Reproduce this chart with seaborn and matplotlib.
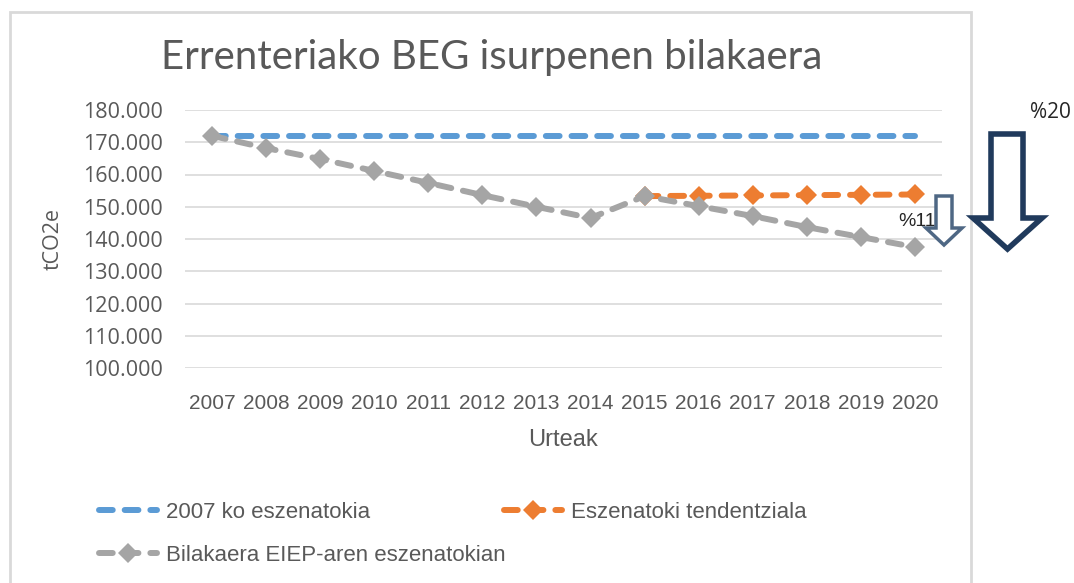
import matplotlib
matplotlib.use("Agg")
import matplotlib.pyplot as plt
import matplotlib.ticker as mticker
from matplotlib.patches import Polygon, Rectangle
from matplotlib.lines import Line2D
import seaborn as sns
import pandas as pd

# datuak
urteak = list(range(2007, 2021))
eszenatoki_2007 = [172000] * 14
tendentziala_urteak = [2015, 2016, 2017, 2018, 2019, 2020]
tendentziala = [153300, 153400, 153500, 153600, 153700, 153800]
eiep = [172000, 168200, 164800, 161100, 157400, 153600, 150000,
        146500, 153300, 150200, 147100, 143700, 140600, 137500]

izenak = ["2007 ko eszenatokia", "Eszenatoki tendentziala",
          "Bilakaera EIEP-aren eszenatokian"]
koloreak = ["#5B9BD5", "#ED7D31", "#A5A5A5"]
testu_kolorea = "#595959"

sns.set_theme(style="white")
plt.rcParams["font.family"] = ["Liberation Sans", "DejaVu Sans"]
zabala = ["Open Sans", "DejaVu Sans"]

W, H = 1074, 583
fig = plt.figure(figsize=(W / 100, H / 100), dpi=100)


def px(x, y):
    # pixel -> figure koordenatuak
    return (x / W, 1 - y / H)


ax = fig.add_axes([185 / W, 1 - 368 / H, (942 - 185) / W, (368 - 110) / H])

df_a = pd.DataFrame({"urtea": urteak, "balioa": eszenatoki_2007})
df_b = pd.DataFrame({"urtea": tendentziala_urteak, "balioa": tendentziala})
df_c = pd.DataFrame({"urtea": urteak, "balioa": eiep})

lw = 4.3
dash = (2.3, 2.0)
sns.lineplot(data=df_a, x="urtea", y="balioa", ax=ax, color=koloreak[0],
             linewidth=lw, zorder=3)
sns.lineplot(data=df_b, x="urtea", y="balioa", ax=ax, color=koloreak[1],
             linewidth=lw, marker="D", markersize=10, markeredgewidth=0, zorder=3)
sns.lineplot(data=df_c, x="urtea", y="balioa", ax=ax, color=koloreak[2],
             linewidth=lw, marker="D", markersize=10, markeredgewidth=0, zorder=4)
for ln in ax.get_lines():
    ln.set_linestyle((0, dash))
    ln.set_dash_capstyle("round")

ax.set_xlim(2006.5, 2020.5)
ax.set_ylim(100000, 180000)
ax.set_xticks(urteak)
ax.set_xticklabels([str(u) for u in urteak])
ax.set_yticks(range(100000, 180001, 10000))
ax.yaxis.set_major_formatter(mticker.FuncFormatter(
    lambda v, p: f"{int(v):,}".replace(",", ".")))
ax.grid(axis="y", color="#D9D9D9", linewidth=1.2)
ax.set_axisbelow(True)
for s in ax.spines.values():
    s.set_visible(False)
ax.tick_params(axis="x", length=0, labelsize=15, colors=testu_kolorea, pad=19)
ax.tick_params(axis="y", length=0, labelsize=15.5, colors=testu_kolorea, pad=16)
for t in ax.get_yticklabels():
    t.set_family(zabala)
ax.set_xlabel("Urteak", fontsize=17, color=testu_kolorea, labelpad=11)
ax.set_ylabel("tCO2e", fontsize=15.5, color=testu_kolorea, labelpad=14,
              family=zabala)

fig.text(*px(492, 58), "Errenteriako BEG isurpenen bilakaera", fontsize=29,
         color=testu_kolorea, ha="center", va="center",
         family=["Lato", "DejaVu Sans"])

# kanpoko ertza
fig.patches.append(Rectangle(px(10, 600), (971 - 10) / W, (600 - 12) / H,
                             transform=fig.transFigure, fill=False,
                             edgecolor="#D9D9D9", linewidth=2))

# legenda (Excel-ek errenkadaka betetzen du)
estiloa = dict(linewidth=lw, linestyle=(0, dash), dash_capstyle="round")
h_urdina = Line2D([], [], color=koloreak[0], **estiloa)
h_grisa = Line2D([], [], color=koloreak[2], marker="D", markersize=10,
                 markeredgewidth=0, **estiloa)
h_laranja = Line2D([], [], color=koloreak[1], marker="D", markersize=10,
                   markeredgewidth=0, **estiloa)
leg_aukerak = dict(loc="upper left", frameon=False, fontsize=16,
                   handlelength=2.6, labelspacing=1.0, handletextpad=0.4,
                   labelcolor=testu_kolorea, borderaxespad=0)
fig.legend([h_urdina, h_grisa], [izenak[0], izenak[2]],
           bbox_to_anchor=px(90, 493), **leg_aukerak)
fig.legend([h_laranja], [izenak[1]],
           bbox_to_anchor=px(495, 493), **leg_aukerak)


# geziak
def gezia(x0, x1, s0, s1, y0, yh, y1, kolorea, lodiera):
    xm = (x0 + x1) / 2
    pts = [(s0, y0), (s1, y0), (s1, yh), (x1, yh), (xm, y1), (x0, yh), (s0, yh)]
    fig.patches.append(Polygon([px(*p) for p in pts], closed=True,
                               transform=fig.transFigure, facecolor="white",
                               edgecolor=kolorea, linewidth=lodiera,
                               joinstyle="miter", zorder=5))


gezia(973, 1042, 991, 1023, 134, 218, 249, "#203A5C", 4)
gezia(926, 962, 936, 952, 196, 228, 245, "#4E6784", 2.5)
fig.text(*px(1050, 113), "%20", fontsize=15, color="#262626",
         ha="center", va="center", family=zabala)
fig.text(*px(917, 221), "%11", fontsize=14, color="#262626",
         ha="center", va="center")

fig.savefig("out.png", dpi=100)
